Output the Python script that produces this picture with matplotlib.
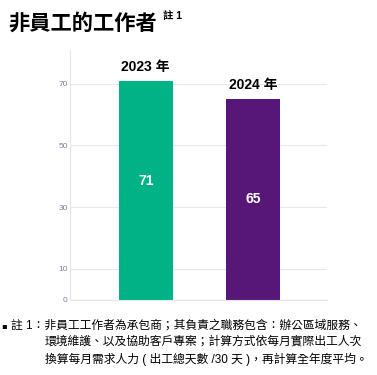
import matplotlib
matplotlib.use("Agg")
import matplotlib.pyplot as plt

plt.rcParams["font.family"] = ["Noto Sans CJK TC", "DejaVu Sans"]
LATIN_CJK = ["Liberation Sans", "Noto Sans CJK TC"]

# ---- data ---- #
years = ["2023 年", "2024 年"]
values = [71, 65]
bar_colors = ["#00b386", "#561778"]
yticks = [0, 10, 30, 50, 70]

title = "非員工的工作者"
note_lines = [
    "註 1：非員工工作者為承包商；其負責之職務包含：辦公區域服務、",
    "環境維護、以及協助客戶專案；計算方式依每月實際出工人次",
    "換算每月需求人力 ( 出工總天數 /30 天 )，再計算全年度平均。",
]

fig = plt.figure(figsize=(3.77, 3.75), dpi=100)
ax = fig.add_axes([0.187, 0.201, 0.681, 0.666])

x = list(range(len(values)))
ax.bar(x, values, width=0.5, color=bar_colors, zorder=2)

ax.set_xlim(-0.7, 1.69)
ax.set_ylim(0, 81)
ax.set_yticks(yticks)
ax.set_xticks([])
ax.tick_params(axis="y", length=0, pad=2, labelsize=6, labelcolor="#7b7fa8")
for t in ax.get_yticklabels():
    t.set_family(["Liberation Sans"])
ax.grid(axis="y", color="#e8e8e8", linewidth=0.8, zorder=0)

for side in ("top", "right"):
    ax.spines[side].set_visible(False)
for side in ("left", "bottom"):
    ax.spines[side].set_color("#e6e6e6")
    ax.spines[side].set_linewidth(0.8)

# year above each bar, value a fixed distance below the bar top
for xi, v, lab in zip(x, values, years):
    ax.annotate(lab, (xi, v), xytext=(0, 5), textcoords="offset points",
                ha="center", va="bottom", fontsize=10, fontweight="bold",
                color="black", family=LATIN_CJK)
    ax.annotate(str(v), (xi, v), xytext=(0, -72), textcoords="offset points",
                ha="center", va="center", fontsize=10, fontweight="bold",
                color="white", family=LATIN_CJK, zorder=3)

fig.text(0.022, 0.938, title, fontsize=15.3, fontweight="bold", va="center")
fig.text(0.433, 0.958, "註 1", fontsize=7.5, fontweight="bold", va="center",
         family=LATIN_CJK)

fig.text(0.004, 0.131, "▪", fontsize=6, va="center", family=["DejaVu Sans"])
fig.text(0.030, 0.133, note_lines[0], fontsize=8.5, va="center", family=LATIN_CJK)
fig.text(0.119, 0.088, note_lines[1], fontsize=8.5, va="center", family=LATIN_CJK)
fig.text(0.119, 0.043, note_lines[2], fontsize=8.5, va="center", family=LATIN_CJK)

fig.savefig("out.png", dpi=100)
